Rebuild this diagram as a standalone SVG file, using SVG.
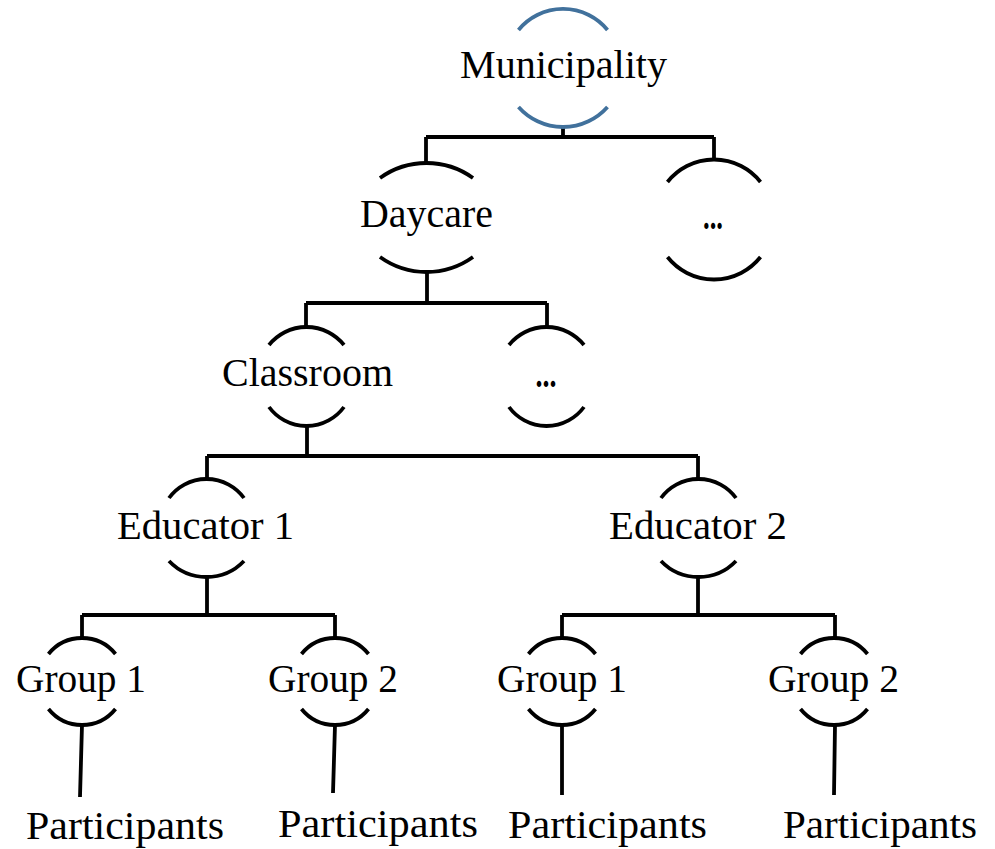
<svg xmlns="http://www.w3.org/2000/svg" width="995" height="849" viewBox="0 0 995 849">
<style>
.arc{fill:none;stroke:#000;stroke-width:3.8}
.blue{stroke:#41719C}
.wire{fill:none;stroke:#000;stroke-width:3.8;stroke-linejoin:miter}
.lbl{font-family:"Liberation Serif","Times New Roman",serif;font-size:39px;fill:#000;text-anchor:middle}
.part{font-family:"Liberation Serif","Times New Roman",serif;font-size:41px;fill:#000;text-anchor:middle}
.dots{font-family:"Liberation Serif","Times New Roman",serif;font-size:38px;font-weight:bold;fill:#000;text-anchor:middle}
</style>
<rect width="995" height="849" fill="#fff"/>
<g id="connectors">
<path class="wire" d="M563 127V137M426 137H714M426 137V163M714 137V159"/>
<path class="wire" d="M427 272V303M306 303H547M306 303V327M547 303V327"/>
<path class="wire" d="M307 426V456M207 456H698M207 456V479M698 456V479"/>
<path class="wire" d="M207 577V615M82 615H335M82 615V638M335 615V638"/>
<path class="wire" d="M698 577V615M562 615H835M562 615V638M835 615V638"/>
<path class="wire" d="M82 725L80 797M335 725L333 793M562 725V795M835 725L834 795"/>
</g>
<g id="municipality">
<path class="arc blue" d="M518.5 30A57.6 57.6 0 0 1 607.5 30"/>
<path class="arc blue" d="M518.5 107A59.5 59.5 0 0 0 607.5 107"/>
<text class="lbl" x="563.5" y="78" textLength="207" lengthAdjust="spacingAndGlyphs">Municipality</text>
</g>
<g id="daycare">
<path class="arc" d="M380 178A79.6 79.6 0 0 1 473 178"/>
<path class="arc" d="M380 257A79.6 79.6 0 0 0 473 257"/>
<text class="lbl" x="426.5" y="227" textLength="133" lengthAdjust="spacingAndGlyphs">Daycare</text>
</g>
<g id="daycare-more">
<path class="arc" d="M667.5 182A59.3 59.3 0 0 1 760.5 182"/>
<path class="arc" d="M667.5 257A59.3 59.3 0 0 0 760.5 257"/>
<text class="dots" x="713" y="229" textLength="20" lengthAdjust="spacingAndGlyphs">...</text>
</g>
<g id="classroom">
<path class="arc" d="M269 345A48.1 48.1 0 0 1 344 345"/>
<path class="arc" d="M269 407A46.5 46.5 0 0 0 344 407"/>
<text class="lbl" x="307.5" y="386" textLength="171" lengthAdjust="spacingAndGlyphs">Classroom</text>
</g>
<g id="classroom-more">
<path class="arc" d="M509 345A48.1 48.1 0 0 1 584 345"/>
<path class="arc" d="M509 407A46.5 46.5 0 0 0 584 407"/>
<text class="dots" x="546" y="387" textLength="21" lengthAdjust="spacingAndGlyphs">...</text>
</g>
<g id="educator1">
<path class="arc" d="M169 498A46.5 46.5 0 0 1 244 498"/>
<path class="arc" d="M169 561A51.9 51.9 0 0 0 244 561"/>
<text class="lbl" x="205.5" y="539" textLength="177" lengthAdjust="spacingAndGlyphs">Educator 1</text>
</g>
<g id="educator2">
<path class="arc" d="M661 498A46.5 46.5 0 0 1 736 498"/>
<path class="arc" d="M661 561A51.9 51.9 0 0 0 736 561"/>
<text class="lbl" x="698" y="539" textLength="178" lengthAdjust="spacingAndGlyphs">Educator 2</text>
</g>
<g id="group1a">
<path class="arc" d="M48.5 654A43.1 43.1 0 0 1 115.5 654"/>
<path class="arc" d="M48.5 709A43.1 43.1 0 0 0 115.5 709"/>
<text class="lbl" x="81" y="692" textLength="130" lengthAdjust="spacingAndGlyphs">Group 1</text>
</g>
<g id="group2a">
<path class="arc" d="M301.5 654A43.1 43.1 0 0 1 368.5 654"/>
<path class="arc" d="M301.5 709A43.1 43.1 0 0 0 368.5 709"/>
<text class="lbl" x="333" y="692" textLength="130" lengthAdjust="spacingAndGlyphs">Group 2</text>
</g>
<g id="group1b">
<path class="arc" d="M528.5 654A43.1 43.1 0 0 1 595.5 654"/>
<path class="arc" d="M528.5 709A43.1 43.1 0 0 0 595.5 709"/>
<text class="lbl" x="562" y="692" textLength="130" lengthAdjust="spacingAndGlyphs">Group 1</text>
</g>
<g id="group2b">
<path class="arc" d="M800.5 654A43.1 43.1 0 0 1 867.5 654"/>
<path class="arc" d="M800.5 709A43.1 43.1 0 0 0 867.5 709"/>
<text class="lbl" x="833.5" y="692" textLength="131" lengthAdjust="spacingAndGlyphs">Group 2</text>
</g>
<g id="participants1"><text class="part" x="125" y="839" textLength="198" lengthAdjust="spacingAndGlyphs">Participants</text></g>
<g id="participants2"><text class="part" x="378" y="837" textLength="200" lengthAdjust="spacingAndGlyphs">Participants</text></g>
<g id="participants3"><text class="part" x="607.5" y="838" textLength="199" lengthAdjust="spacingAndGlyphs">Participants</text></g>
<g id="participants4"><text class="part" x="880" y="838" textLength="194" lengthAdjust="spacingAndGlyphs">Participants</text></g>
</svg>
